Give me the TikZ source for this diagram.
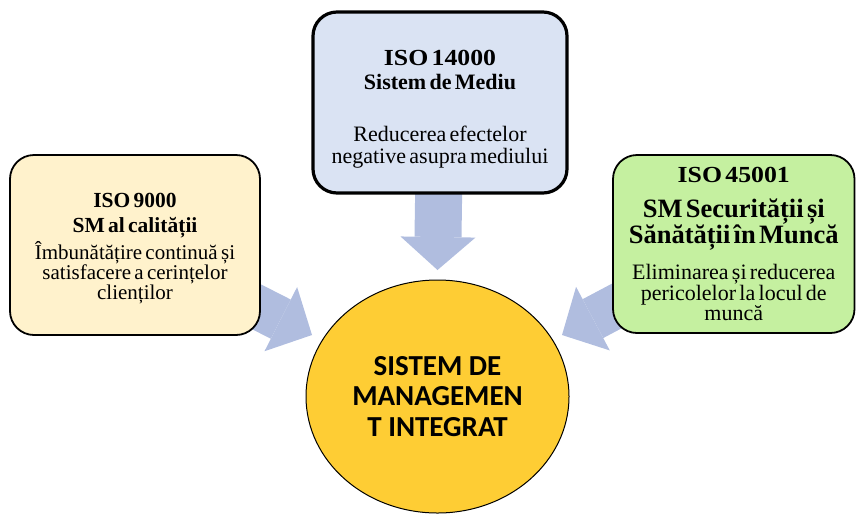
\documentclass[tikz,border=0pt]{standalone}
\usepackage{fontspec}
\setmainfont{Liberation Serif}
\newfontfamily\isofont{Liberation Serif}[FakeStretch=1.12]
\newfontfamily\circfont{Carlito}
\usetikzlibrary{arrows.meta,shapes.geometric,backgrounds}
\definecolor{cYellow}{RGB}{255,242,204}
\definecolor{cBlue}{RGB}{218,227,243}
\definecolor{cGreen}{RGB}{197,240,160}
\definecolor{cGold}{RGB}{254,205,52}
\definecolor{cArrow}{RGB}{176,189,223}
\newcommand{\fsz}[2]{\fontsize{#1}{#2}\selectfont}
\lineskiplimit=-30pt
\begin{document}
\begin{tikzpicture}[x=1pt,y=-1pt,
  isobox/.style={draw=black, rounded corners=24pt, inner sep=0pt, align=center, text width=#1},
  blockarrow/.style={draw=cArrow, line width=#1},
  sidehead/.style={-{Triangle[length=35pt,width=72pt,line width=0pt]}},
  tophead/.style={-{Triangle[length=33pt,width=75pt,line width=0pt]}},
]
\useasboundingbox (0,0) rectangle (856,515);

% left box
\node[isobox=246pt, fill=cYellow, line width=1.8pt, minimum width=250pt, minimum height=180pt] (iso9) at (135,245)
  {\fsz{21.5}{25}\bfseries\rule{0pt}{21pt}ISO 9000\\ SM al calității\par\vspace{2pt}
   \fsz{21}{20}\mdseries Îmbunătățire continuă și\\ satisfacere a cerințelor\\ clienților\par};

% top box
\node[isobox=250pt, fill=cBlue, line width=3.2pt, minimum width=254pt, minimum height=181pt] (iso14) at (440,102.5)
  {{\isofont\fsz{23}{23}\bfseries\rule{0pt}{28.6pt}ISO 14000\par}
   \fsz{22}{23.3}\bfseries Sistem de Mediu\par\vspace{30pt}
   \fsz{22}{22}\mdseries Reducerea efectelor\\ negative asupra mediului\par};

% right box
\node[isobox=238pt, fill=cGreen, line width=1.8pt, minimum width=241.5pt, minimum height=178pt] (iso45) at (733.75,244)
  {{\isofont\fsz{23}{23}\bfseries ISO 45001\par}\vspace{11pt}
   \fsz{26.5}{24}\bfseries SM Securității și\\ Sănătății în Muncă\par\vspace{12.5pt}
   \fsz{22}{19.5}\mdseries Eliminarea și reducerea\\ pericolelor la locul de\\ muncă\par};

% central ellipse
\node[ellipse, draw=black, line width=1pt, fill=cGold, inner sep=0pt, minimum width=263pt, minimum height=233pt,
      align=center, font={\circfont\bfseries\fsz{29}{30.5}}] (sim) at (437.5,396.5)
  {SISTEM DE\\ MANAGEMEN\\ T INTEGRAT};

\coordinate (tipL) at (312,335);
\coordinate (tipT) at (437.5,270);
\coordinate (tipR) at (562,335);

\begin{scope}[on background layer]
  \draw[blockarrow=44pt, sidehead] (iso9.center) -- (tipL);
  \draw[blockarrow=47pt, tophead] (iso14.center) -- (tipT);
  \draw[blockarrow=44pt, sidehead] (iso45.center) -- (tipR);
\end{scope}
\end{tikzpicture}
\end{document}
